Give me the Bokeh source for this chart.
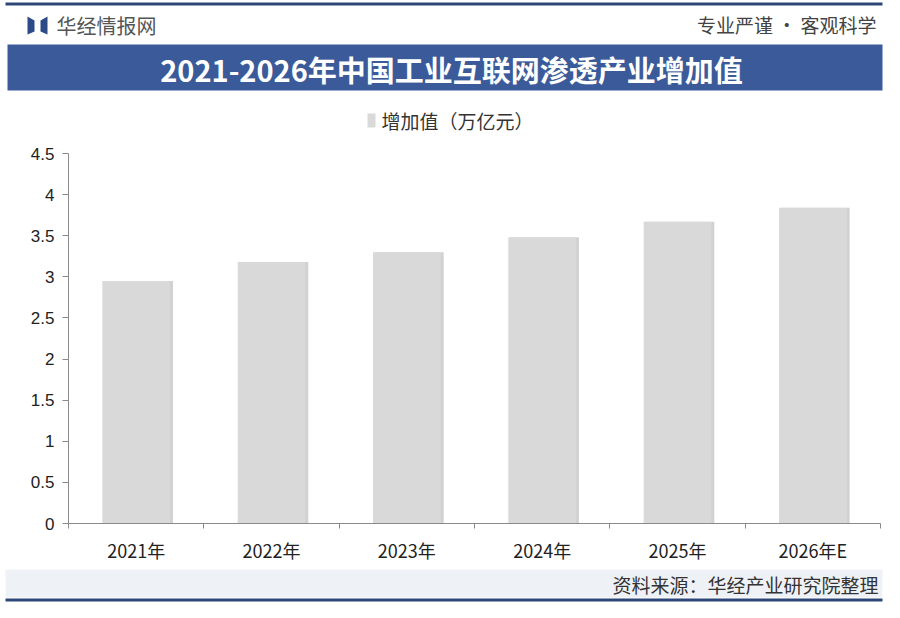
from bokeh.plotting import figure
from bokeh.models import Range1d, FixedTicker, LinearAxis
from bokeh.layouts import column
from bokeh.core.properties import value
from bokeh.embed import file_html
from bokeh.resources import INLINE

# ---------------- data ----------------
categories = ["2021年", "2022年", "2023年", "2024年", "2025年", "2026年E"]
values = [2.95, 3.18, 3.30, 3.48, 3.67, 3.84]
series_name = "增加值（万亿元）"
y_ticks = [0, 0.5, 1, 1.5, 2, 2.5, 3, 3.5, 4, 4.5]
y_tick_labels = ["0", "0.5", "1", "1.5", "2", "2.5", "3", "3.5", "4", "4.5"]
title_text = "2021-2026年中国工业互联网渗透产业增加值"
brand_text = "华经情报网"
slogan_text = "专业严谨 • 客观科学"
source_text = "资料来源：华经产业研究院整理"

CJK = "Noto Sans CJK SC"
NAVY = "#3b5a9a"
DARK = "#2c4677"
BAR = "#d9d9d9"
AXIS = "#8a8a8a"
W = 884
HEADER_H = 140
MAIN_H = 428
FOOTER_H = 34


def deco_figure(h, y0):
    f = figure(width=W, height=h, x_range=Range1d(0, W), y_range=Range1d(y0 + h, y0),
               x_axis_type=None, y_axis_type=None, output_backend="svg",
               toolbar_location=None, min_border=0, frame_align=False)
    f.outline_line_color = None
    f.grid.grid_line_color = None
    f.background_fill_color = "white"
    f.border_fill_color = "white"
    return f


# ---------------- header ----------------
hdr = deco_figure(HEADER_H, 0)
hdr.quad(left=[5], right=[882], top=[2], bottom=[5], fill_color=DARK, line_color=None)
hdr.quad(left=[7], right=[882], top=[44], bottom=[90], fill_color=NAVY, line_color=None)
hdr.patches(xs=[[27, 34, 34, 27], [40, 47, 47, 40]],
            ys=[[16, 20, 31, 34], [20, 16, 34, 31]],
            fill_color="#2c4a86", line_color=None)
hdr.text(x=[56], y=[25], text=[brand_text], text_font=value(CJK), text_font_size="20px",
         text_color="#555555", text_align="left", text_baseline="middle")
hdr.text(x=[876], y=[24], text=[slogan_text], text_font=value(CJK), text_font_size="19px",
         text_color="#444444", text_align="right", text_baseline="middle")
hdr.text(x=[451], y=[68], text=[title_text], text_font=value(CJK), text_font_size="29px",
         text_font_style="bold", text_color="white", text_align="center",
         text_baseline="middle")
# legend (series key)
hdr.quad(left=[367], right=[375], top=[113], bottom=[127], fill_color=BAR, line_color=None)
hdr.text(x=[381], y=[120], text=[series_name], text_font=value(CJK), text_font_size="19px",
         text_color="#333333", text_align="left", text_baseline="middle")

# ---------------- main chart ----------------
n = len(categories)
slot_centers = [i + 0.5 for i in range(n)]   # one slot per category
slot_bounds = list(range(n + 1))

p = figure(width=W, height=MAIN_H, x_range=Range1d(0, n),
           y_range=Range1d(0, 4.5), output_backend="svg", toolbar_location=None,
           x_axis_location=None,
           min_border_left=68, min_border_right=4, min_border_top=13, min_border_bottom=45,
           frame_align=False)
p.outline_line_color = None
p.background_fill_color = "white"
p.border_fill_color = "white"
p.xgrid.grid_line_color = None
p.ygrid.grid_line_color = None

src = dict(x=slot_centers, shadow_x=[c + 0.022 for c in slot_centers], top=values,
           label=categories)
p.vbar(x="shadow_x", top="top", width=0.5, source=src, fill_color="#b3b3b3",
       fill_alpha=0.6, line_color=None)
p.vbar(x="x", top="top", width=0.5, source=src, fill_color=BAR, line_color=None)

p.yaxis.ticker = FixedTicker(ticks=y_ticks)
p.yaxis.major_label_overrides = {t: l for t, l in zip(y_ticks, y_tick_labels)}
p.yaxis.minor_tick_line_color = None
p.yaxis.major_tick_in = 0
p.yaxis.major_tick_out = 6
p.yaxis.major_label_standoff = 8
p.yaxis.axis_line_color = AXIS
p.yaxis.major_tick_line_color = AXIS
p.yaxis.major_label_text_font = "Liberation Sans"
p.yaxis.major_label_text_font_size = "17px"
p.yaxis.major_label_text_color = "#222222"

# axis line with small ticks at the category boundaries
edge_axis = LinearAxis(ticker=FixedTicker(ticks=slot_bounds),
                       major_label_overrides={b: "" for b in slot_bounds},
                       major_label_text_font_size="1px", major_label_standoff=0,
                       major_tick_in=0, major_tick_out=5, minor_tick_line_color=None,
                       axis_line_color=AXIS, major_tick_line_color=AXIS)
p.add_layout(edge_axis, "below")

# category labels centred in each slot
cat_axis = LinearAxis(ticker=FixedTicker(ticks=slot_centers),
                      major_label_overrides={c: l for c, l in zip(slot_centers, categories)},
                      axis_line_color=None, major_tick_line_color=None,
                      minor_tick_line_color=None,
                      major_label_standoff=2, major_label_text_font=CJK,
                      major_label_text_font_size="18px",
                      major_label_text_color="#222222")
p.add_layout(cat_axis, "below")

# ---------------- footer ----------------
ftr = deco_figure(FOOTER_H, HEADER_H + MAIN_H)
ftr.quad(left=[5], right=[882], top=[569], bottom=[597], fill_color="#eef1f6", line_color=None)
ftr.quad(left=[5], right=[882], top=[598], bottom=[601], fill_color=DARK, line_color=None)
ftr.text(x=[878], y=[584], text=[source_text], text_font=value(CJK), text_font_size="19px",
         text_color="#333333", text_align="right", text_baseline="middle")

layout = column(hdr, p, ftr, spacing=0)
open("out.html", "w").write(file_html(layout, INLINE))
